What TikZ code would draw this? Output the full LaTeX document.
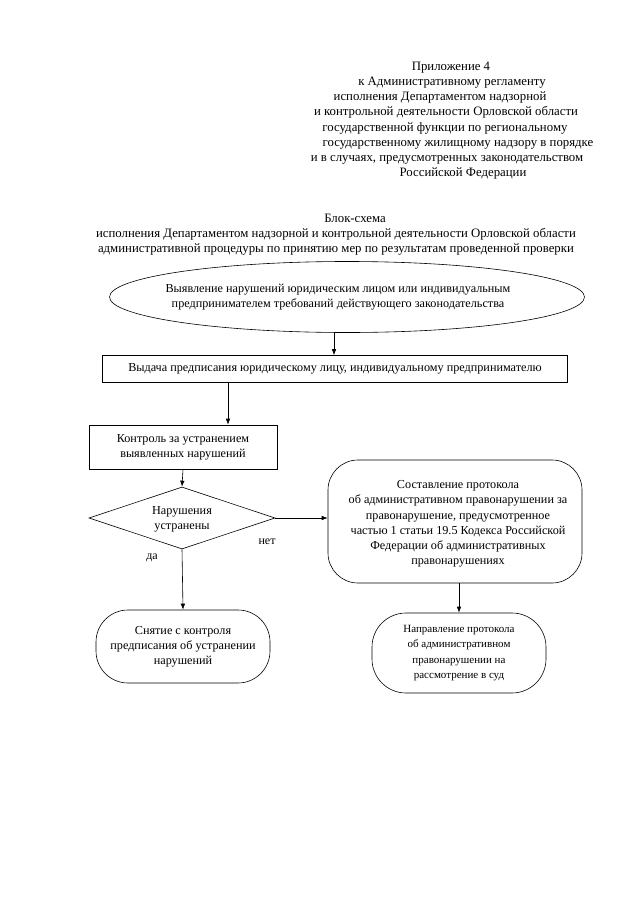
\documentclass[tikz,border=0pt]{standalone}
\usepackage{fontspec}
\setmainfont{Liberation Serif}
\usetikzlibrary{shapes.geometric,arrows.meta}
\begin{document}
\begin{tikzpicture}[x=1pt,y=-1pt,
  hdr/.style={font=\fontsize{12.8}{15}\selectfont, inner sep=0, anchor=base},
  txt/.style={font=\fontsize{12.2}{15.2}\selectfont, align=center, inner sep=0},
  small/.style={font=\fontsize{11}{15.5}\selectfont, align=center, inner sep=0},
  lbl/.style={font=\fontsize{12}{14}\selectfont, inner sep=0},
  shp/.style={draw, line width=0.6pt},
  arr/.style={-{Latex[length=6pt,width=4.5pt]}, line width=0.6pt}]
\useasboundingbox (0,0) rectangle (640,905);
% header
\node[hdr] (h1) at (451,70) {Приложение 4};
\node[hdr] (h2) at (452,85) {к Административному регламенту};
\node[hdr] (h3) at (440,100.5) {исполнения Департаментом надзорной};
\node[hdr] (h4) at (446,115.5) {и контрольной деятельности Орловской области};
\node[hdr] (h5) at (445,131) {государственной функции по региональному};
\node[hdr] (h6) at (458,146) {государственному жилищному надзору в порядке};
\node[hdr] (h7) at (447,161.5) {и в случаях, предусмотренных законодательством};
\node[hdr] (h8) at (463,176.5) {Российской Федерации};
% title
\node[hdr] (t1) at (355,222) {Блок-схема};
\node[hdr] (t2) at (336,237) {исполнения Департаментом надзорной и контрольной деятельности Орловской области};
\node[hdr] (t3) at (336,252) {административной процедуры по принятию мер по результатам проведенной проверки};
% shapes
\node[shp, ellipse, minimum width=475pt, minimum height=71pt, inner sep=0] (e) at (347,297) {};
\node[txt] (et) at (338,297) {Выявление нарушений юридическим лицом или индивидуальным\\предпринимателем требований действующего законодательства};
\node[shp, rectangle, minimum width=465pt, minimum height=27pt, inner sep=0] (b1) at (335,369) {};
\node[txt] (b1t) at (b1) {Выдача предписания юридическому лицу, индивидуальному предпринимателю};
\node[shp, rectangle, minimum width=188pt, minimum height=44pt, inner sep=0, txt] (b2) at (183,447) {Контроль за устранением\\выявленных нарушений};
\node[shp, diamond, aspect=3, minimum width=186pt, minimum height=62pt, inner sep=0] (d) at (182,518) {};
\node[txt] (dt) at (182,519) {Нарушения\\устранены};
\node[shp, rectangle, rounded corners=30pt, minimum width=254pt, minimum height=123pt, inner sep=0] (r1) at (455,521.5) {};
\node[txt] (r1t) at (458,524) {Составление протокола\\об административном правонарушении за\\правонарушение, предусмотренное\\частью 1 статьи 19.5 Кодекса Российской\\Федерации об административных\\правонарушениях};
\node[shp, rectangle, rounded corners=34pt, minimum width=174pt, minimum height=80pt, inner sep=0, small] (r2) at (459,653) {Направление протокола\\об административном\\правонарушении на\\рассмотрение в суд};
\node[shp, rectangle, rounded corners=32pt, minimum width=174pt, minimum height=73pt, inner sep=0, txt] (r3) at (183,646.5) {Снятие с контроля\\предписания об устранении\\нарушений};
\node[lbl] (no) at (267,542) {нет};
\node[lbl] (yes) at (152,558) {да};
% connectors
\coordinate (a1s) at (334,333);
\draw[arr] (a1s) -- (a1s |- b1.north);
\coordinate (a2s) at (228,382.5);
\draw[arr] (a2s) -- (a2s |- b2.north);
\draw[arr] (b2.south) -- (d.north);
\draw[arr] (d.east) -- (d.east -| r1.west);
\draw[arr] (d.south) -- (r3.north);
\draw[arr] (r1.south -| r2.north) -- (r2.north);
\end{tikzpicture}
\end{document}
